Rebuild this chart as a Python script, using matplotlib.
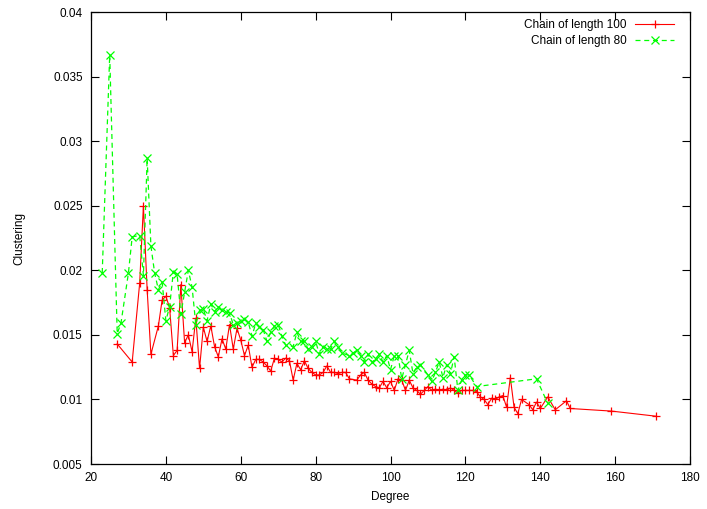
import matplotlib
matplotlib.use("Agg")
import matplotlib.pyplot as plt

plt.rcParams['font.family'] = ['Liberation Sans', 'DejaVu Sans']

# chain of length 100
deg100 = [27, 31, 33, 34, 35, 36, 38, 39, 40, 41, 42, 43, 44, 45, 46, 47,
          48, 49, 50, 51, 52, 53, 54, 55, 56, 57, 58, 59, 60, 61, 62, 63,
          64, 65, 66, 67, 68, 69, 70, 71, 72, 73, 74, 75, 76, 77, 78, 79,
          80, 81, 82, 83, 84, 85, 86, 87, 88, 89, 91, 92, 93, 94, 95, 96,
          97, 98, 99, 100, 101, 102, 103, 104, 105, 106, 107, 108, 109, 110,
          111, 112, 113, 114, 115, 116, 117, 118, 119, 120, 121, 122, 123,
          124, 125, 126, 127, 128, 129, 130, 131, 132, 133, 134, 135, 137,
          138, 139, 140, 142, 144, 147, 148, 159, 171]
clu100 = [0.0143, 0.0129, 0.0190, 0.0250, 0.0185, 0.0135, 0.0157, 0.0177,
          0.0180, 0.0171, 0.0134, 0.0138, 0.0189, 0.0144, 0.0150, 0.0137,
          0.0163, 0.0124, 0.0156, 0.0145, 0.0157, 0.0141, 0.0133, 0.0147,
          0.0139, 0.0158, 0.0139, 0.0155, 0.0146, 0.0134, 0.0142, 0.0125,
          0.0131, 0.0131, 0.0129, 0.0126, 0.0122, 0.0132, 0.0131, 0.0129,
          0.0132, 0.0130, 0.0115, 0.0128, 0.0123, 0.0130, 0.0124, 0.0121,
          0.0119, 0.0119, 0.0121, 0.0126, 0.0121, 0.0121, 0.0120, 0.0121,
          0.0121, 0.0116, 0.0115, 0.0119, 0.0121, 0.0115, 0.0112, 0.0110,
          0.0109, 0.0114, 0.0109, 0.0114, 0.0107, 0.0116, 0.0115, 0.0107,
          0.0115, 0.0109, 0.0107, 0.0104, 0.0107, 0.0110, 0.0107, 0.0108,
          0.0107, 0.0108, 0.0107, 0.0109, 0.0107, 0.0105, 0.0107, 0.0107,
          0.0107, 0.0107, 0.0106, 0.0102, 0.0100, 0.0096, 0.0101, 0.0100,
          0.0102, 0.0103, 0.0094, 0.0117, 0.0094, 0.0089, 0.0100, 0.0096,
          0.0092, 0.0098, 0.0093, 0.0102, 0.0092, 0.0099, 0.0093, 0.0091,
          0.0087]

# chain of length 80
deg80 = [23, 25, 27, 28, 30, 31, 33, 34, 35, 36, 37, 38, 39, 40, 41, 42,
         43, 44, 45, 46, 47, 48, 49, 50, 51, 52, 53, 54, 55, 56, 57, 58, 59,
         60, 61, 62, 63, 64, 65, 66, 67, 68, 69, 70, 71, 72, 74, 75, 76, 77,
         78, 79, 80, 81, 82, 83, 84, 85, 86, 87, 89, 90, 91, 92, 93, 94, 95,
         96, 97, 98, 99, 100, 101, 102, 103, 104, 105, 106, 107, 108, 110,
         111, 112, 113, 114, 115, 116, 117, 118, 119, 120, 121, 123, 139, 142]
clu80 = [0.0198, 0.0367, 0.0151, 0.0159, 0.0198, 0.0226, 0.0227, 0.0196,
         0.0287, 0.0219, 0.0198, 0.0185, 0.0191, 0.0161, 0.0172, 0.0199,
         0.0197, 0.0166, 0.0183, 0.0200, 0.0187, 0.0158, 0.0169, 0.0170,
         0.0161, 0.0174, 0.0168, 0.0172, 0.0169, 0.0168, 0.0167, 0.0158,
         0.0159, 0.0161, 0.0162, 0.0160, 0.0149, 0.0159, 0.0156, 0.0154,
         0.0145, 0.0152, 0.0157, 0.0158, 0.0149, 0.0142, 0.0141, 0.0152,
         0.0145, 0.0145, 0.0139, 0.0141, 0.0145, 0.0135, 0.0141, 0.0139,
         0.0139, 0.0145, 0.0141, 0.0136, 0.0134, 0.0136, 0.0138, 0.0134,
         0.0129, 0.0135, 0.0129, 0.0131, 0.0135, 0.0129, 0.0134, 0.0123,
         0.0134, 0.0134, 0.0116, 0.0127, 0.0138, 0.0120, 0.0125, 0.0127,
         0.0119, 0.0114, 0.0121, 0.0129, 0.0117, 0.0127, 0.0120, 0.0133,
         0.0107, 0.0115, 0.0119, 0.0119, 0.0110, 0.0116, 0.0097]

fig = plt.figure(figsize=(7.07, 5.09), dpi=100)
ax = fig.add_axes([0.1287, 0.0884, 0.8473, 0.8876])

ax.plot(deg100, clu100, color='#ff0000', lw=0.8, marker='+', ms=6, mew=0.9,
        label='Chain of length 100')
ax.plot(deg80, clu80, color='#00ff00', lw=0.9, ls=(0, (4, 3)), marker='x',
        ms=5.5, mew=0.9, label='Chain of length 80')

ax.set_xlim(20, 180)
ax.set_ylim(0.005, 0.04)
ax.set_xticks(range(20, 181, 20))
ax.set_yticks([0.005, 0.01, 0.015, 0.02, 0.025, 0.03, 0.035, 0.04])
ax.set_yticklabels(['0.005', '0.01', '0.015', '0.02', '0.025', '0.03',
                    '0.035', '0.04'])
ax.tick_params(direction='in', top=True, right=True, length=6, width=0.8,
               labelsize=8.5, pad=6)
for s in ax.spines.values():
    s.set_linewidth(0.9)

ax.set_xlabel('Degree', fontsize=8.5, labelpad=5)
ax.set_ylabel('Clustering', fontsize=8.5, labelpad=20)

ax.legend(loc='upper right', bbox_to_anchor=(1 - 16 / 599, 1 - 7 / 452),
          frameon=False, markerfirst=False, fontsize=8.5,
          handlelength=3.3, borderaxespad=0, borderpad=0,
          labelspacing=0.35, handletextpad=0.7)

fig.savefig('out.png', dpi=100)
